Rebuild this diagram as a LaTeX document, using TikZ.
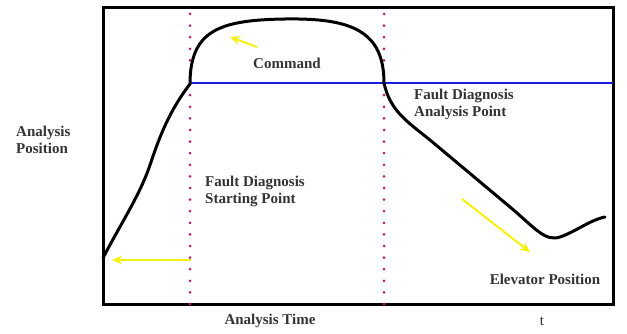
\documentclass[tikz,border=0pt]{standalone}
\usepackage{fontspec}
\setmainfont{Liberation Serif}
\usetikzlibrary{arrows.meta}
\definecolor{txt}{HTML}{333333}
\definecolor{dotc}{HTML}{B0206A}
\definecolor{bluel}{HTML}{1A1AE0}
\definecolor{yel}{HTML}{F5F010}
\tikzset{
  lbl/.style={font=\bfseries\fontsize{15}{17}\selectfont, text=txt, inner sep=0pt, align=left},
  dotline/.style={dotc, line width=3pt, line cap=round, dash pattern=on 0pt off 11.6pt},
  yarrow/.style={yel, line width=2pt, -{Stealth[length=10pt,width=9pt]}},
  curve/.style={black, line width=3pt, line cap=round, line join=round},
}
\begin{document}
\begin{tikzpicture}[x=1pt,y=-1pt]
\useasboundingbox (0,0) rectangle (627,334);
% frame
\draw[line width=3pt] (103,8) rectangle (613,304);
% blue line
\coordinate (bl) at (190,83);
\coordinate (br) at (613,83);
\draw[bluel, line width=2pt] (bl) -- (br);
% dotted lines
\coordinate (d1t) at (190,14);
\coordinate (d1b) at (190,304);
\coordinate (d2t) at (384,14);
\coordinate (d2b) at (384,304);
\draw[dotline] (d1t) -- (d1b);
\draw[dotline] (d2t) -- (d2b);
% curve
\draw[curve] (103,258) .. controls (120,225) and (140,195) .. (150,165)
 .. controls (160,135) and (170,110) .. (190,84)
 .. controls (190,30) and (220,20) .. (285,19)
 .. controls (350,18) and (384,30) .. (384,83)
 .. controls (390,110) and (405,120) .. (430,140)
 -- (510,207)
 .. controls (535,228) and (545,242) .. (560,237)
 .. controls (575,232) and (590,220) .. (605,217);
% yellow arrows
\coordinate (a1s) at (257,47);
\coordinate (a1e) at (230,37);
\draw[yarrow] (a1s) -- (a1e);
\coordinate (a2s) at (191,260);
\coordinate (a2e) at (112,260);
\draw[yarrow] (a2s) -- (a2e);
\coordinate (a3s) at (462,199);
\coordinate (a3e) at (530,252);
\draw[yarrow] (a3s) -- (a3e);
% labels
\node[lbl] (cmd) at (287,63) {Command};
\node[lbl, anchor=west] (fda) at (414,104.5) {Fault Diagnosis\\Analysis Point};
\node[lbl, anchor=west] (fds) at (205,191) {Fault Diagnosis\\Starting Point};
\node[lbl, anchor=west] (ap) at (16,140) {Analysis\\Position};
\node[lbl] (ep) at (545,279) {Elevator Position};
\node[lbl] (at) at (270,321) {Analysis Time};
\node[lbl, font=\fontsize{15}{17}\selectfont] (t) at (542,321) {t};
\end{tikzpicture}
\end{document}
